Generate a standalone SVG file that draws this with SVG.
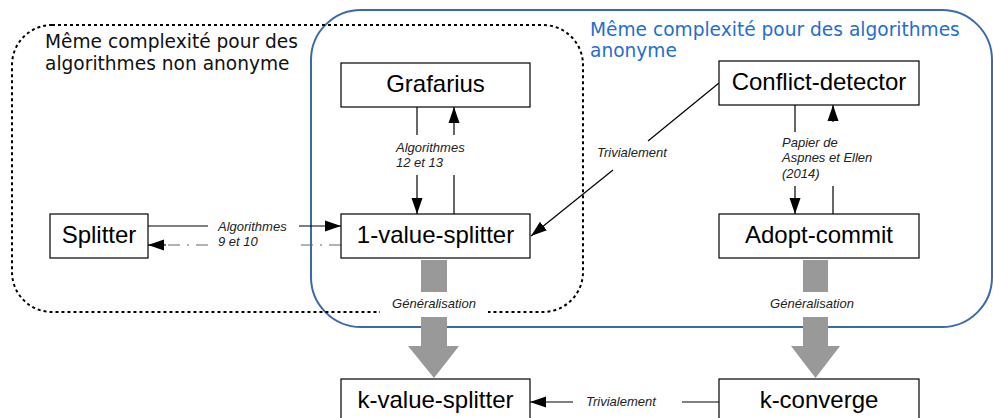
<svg xmlns="http://www.w3.org/2000/svg" width="993" height="418" viewBox="0 0 993 418">
<style>
.node rect{fill:#fff;stroke:#000;stroke-width:1.2}
.node text{font-family:"Liberation Sans",Arial,sans-serif;font-size:24px;fill:#000;text-anchor:middle}
.lbl{font-family:"Liberation Sans",Arial,sans-serif;font-size:13px;font-style:italic;fill:#222}
.title{font-family:"DejaVu Sans",Verdana,sans-serif;font-size:18.6px}
.c{stroke:#000;stroke-width:1.2;fill:none}
.dd{stroke:#666;stroke-width:1.2;fill:none;stroke-dasharray:12 7 2 7}
.big{fill:#999}
</style>
<defs>
<marker id="ah" markerUnits="userSpaceOnUse" markerWidth="16" markerHeight="12" refX="16" refY="6" orient="auto">
<path d="M0,0.5 L16,6 L0,11.5 z" fill="#000"/>
</marker>
</defs>
<rect x="311" y="10" width="681" height="317" rx="50" fill="none" stroke="#3a6aad" stroke-width="2"/>
<rect x="12" y="25" width="571" height="287" rx="40" fill="none" stroke="#000" stroke-width="2" stroke-dasharray="3 3"/>
<text class="title" x="45" y="48" fill="#111">Même complexité pour des</text>
<text class="title" x="45" y="70" fill="#111">algorithmes non anonyme</text>
<text class="title" x="590" y="36" fill="#1f6ed0">Même complexité pour des algorithmes</text>
<text class="title" x="590" y="57" fill="#1f6ed0">anonyme</text>
<g id="connectors">
<line class="c" x1="148" y1="226" x2="208" y2="226"/>
<line class="c" x1="299" y1="226" x2="341" y2="226" marker-end="url(#ah)"/>
<line class="dd" x1="341" y1="245" x2="300" y2="245"/>
<line class="dd" x1="208" y1="245" x2="165" y2="245"/>
<line class="c" x1="166" y1="245" x2="148" y2="245" marker-end="url(#ah)"/>
<text class="lbl" x="218" y="231">Algorithmes</text>
<text class="lbl" x="218" y="246">9 et 10</text>
<line class="c" x1="417" y1="107" x2="417" y2="135"/>
<line class="c" x1="417" y1="175" x2="417" y2="214" marker-end="url(#ah)"/>
<line class="c" x1="454" y1="214" x2="454" y2="175"/>
<line class="c" x1="454" y1="135" x2="454" y2="107" marker-end="url(#ah)"/>
<text class="lbl" x="396" y="152">Algorithmes</text>
<text class="lbl" x="396" y="167">12 et 13</text>
<line class="c" x1="795" y1="105" x2="795" y2="132"/>
<line class="c" x1="795" y1="186" x2="795" y2="214" marker-end="url(#ah)"/>
<line class="c" x1="833" y1="214" x2="833" y2="186"/>
<line class="c" x1="833" y1="122" x2="833" y2="105" marker-end="url(#ah)"/>
<text class="lbl" x="782" y="147">Papier de</text>
<text class="lbl" x="782" y="162">Aspnes et Ellen</text>
<text class="lbl" x="782" y="178">(2014)</text>
<line class="c" x1="719" y1="83" x2="648" y2="141"/>
<line class="c" x1="613" y1="170" x2="531" y2="236" marker-end="url(#ah)"/>
<text class="lbl" x="597" y="157">Trivialement</text>
<line class="c" x1="719" y1="402" x2="682" y2="402"/>
<line class="c" x1="573" y1="402" x2="530" y2="402" marker-end="url(#ah)"/>
<text class="lbl" x="586" y="406">Trivialement</text>
<rect class="big" x="421" y="260" width="26" height="32"/>
<path class="big" d="M421,317 H447 V346 H459 L434,378 L408,346 H421 Z"/>
<rect class="big" x="803" y="260" width="25" height="32"/>
<path class="big" d="M803,317 H828 V346 H840 L815.5,378 L791,346 H803 Z"/>
<rect x="380" y="295" width="108" height="19" fill="#fff"/>
<text class="lbl" x="434" y="308" text-anchor="middle">Généralisation</text>
<text class="lbl" x="812" y="308" text-anchor="middle">Généralisation</text>
</g>
<g id="grafarius" class="node"><rect x="341" y="63" width="189" height="44"/><text x="435.5" y="92">Grafarius</text></g>
<g id="conflict-detector" class="node"><rect x="719" y="61" width="200" height="44"/><text x="819" y="90">Conflict-detector</text></g>
<g id="splitter" class="node"><rect x="50" y="214" width="98" height="44"/><text x="99" y="243">Splitter</text></g>
<g id="one-value-splitter" class="node"><rect x="341" y="214" width="189" height="44"/><text x="435.5" y="243">1-value-splitter</text></g>
<g id="adopt-commit" class="node"><rect x="719" y="214" width="200" height="44"/><text x="819" y="243">Adopt-commit</text></g>
<g id="k-value-splitter" class="node"><rect x="341" y="379" width="189" height="50"/><text x="435.5" y="408">k-value-splitter</text></g>
<g id="k-converge" class="node"><rect x="719" y="379" width="200" height="50"/><text x="819" y="408">k-converge</text></g>
</svg>
